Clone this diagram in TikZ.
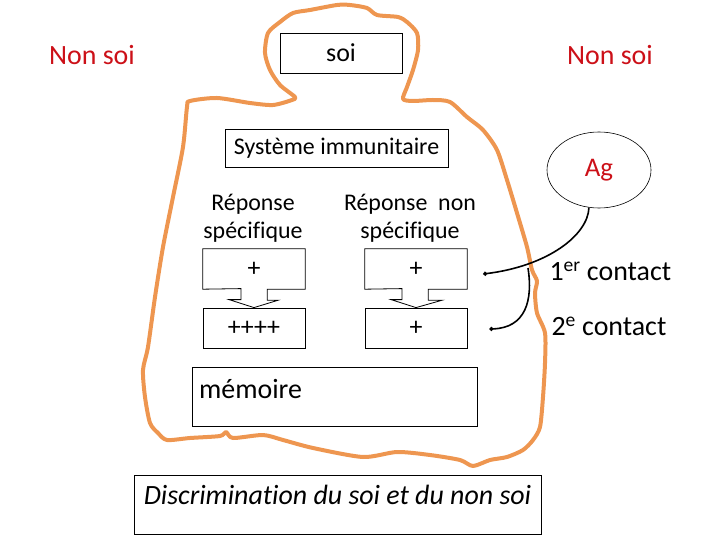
\documentclass[tikz,border=0pt]{standalone}
\usepackage{fontspec}
\setmainfont{Carlito}[Ligatures=NoCommon]
\usetikzlibrary{arrows.meta,shapes.geometric,calc}
\definecolor{bodyline}{RGB}{238,150,80}
\definecolor{nonsoired}{RGB}{204,16,24}
\tikzset{
  box/.style={draw, line width=0.8bp, inner sep=0pt},
  callout/.style={draw, line width=0.8bp, line join=miter},
  redtext/.style={text=nonsoired, font=\fontsize{28}{32}\selectfont},
  bigtext/.style={font=\fontsize{28}{32}\selectfont},
  plustext/.style={font=\fontsize{26}{30}\selectfont},
  midtext/.style={font=\fontsize{24}{28}\selectfont},
  agline/.style={line width=1.6bp, -{Circle[length=4pt]}}
}
\begin{document}
\begin{tikzpicture}[x=1bp,y=-1bp]
      \useasboundingbox (0,0) rectangle (720,540);
      \draw[bodyline, line width=4bp, line join=round] plot[smooth cycle, tension=0.45] coordinates {
        (295,97) (280,85) (270,70) (265,53) (268,33) (280,22) (293,13) (310,10)
        (337,5) (350,5) (367,8) (377,15) (398,17) (407,22) (417,33) (418,50)
        (413,70) (407,87) (403,99) (413,101) (433,100) (450,102) (467,117)
        (483,130) (497,150) (507,180) (517,213) (527,247) (532,270) (537,281)
        (535,293) (537,313) (545,333) (545,363) (543,397) (540,427) (533,440)
        (523,450) (507,457) (490,460) (473,466) (460,460) (430,455) (397,452)
        (363,457) (313,448) (283,440) (263,435) (233,438) (226,432) (220,436)
        (190,438) (167,440) (158,433) (150,423) (145,397) (143,370) (148,347)
        (155,297) (163,247) (173,197) (183,147) (187,107) (190,101) (217,98)
        (250,103) (273,105) (292,100)};
      \node[redtext] (nonsoiL) at (92,55) {Non soi};
      \node[redtext] (nonsoiR) at (610,55) {Non soi};
      \node[box, plustext, minimum width=122bp, minimum height=40bp] (soi) at (341,53) {soi};
      \node[box, midtext, minimum width=223bp, minimum height=38bp] (sysimm) at (336.5,148) {Système immunitaire};
      \node[midtext, align=center] (repspec) at (253,218) {Réponse\\spécifique};
      \node[midtext, align=center] (repnon) at (410,218) {Réponse~~non\\spécifique};
      \node[plustext, minimum width=102bp, minimum height=40bp] (plusA) at (254,269) {+};
      \node[plustext, minimum width=102bp, minimum height=40bp] (plusB) at (416,269) {+};
      \node[box, plustext, minimum width=102bp, minimum height=40bp] (quadA) at (254,328) {++++};
      \node[box, plustext, minimum width=102bp, minimum height=40bp] (plusC) at (416,328) {+};
      \draw[callout] (plusA.south west) -- (plusA.north west) -- (plusA.north east) -- (plusA.south east)
        -- ++(-38,0) -- ++(0,11) -- ++(11,0) -- (quadA.north) -- ++(-25,-8) -- ++(12,0) -- ++(0,-11) -- cycle;
      \draw[callout] (plusB.south west) -- (plusB.north west) -- (plusB.north east) -- (plusB.south east)
        -- ++(-39,0) -- ++(0,11) -- ++(14,0) -- (plusC.north) -- ++(-25,-8) -- ++(11,0) -- ++(0,-11) -- cycle;
      \node[box, minimum width=285bp, minimum height=59bp] (memoire) at (334.5,396.5) {};
      \node[bigtext, anchor=west] (memlabel) at ($(memoire.north west)+(4,22)$) {mémoire};
      \node[box, minimum width=407bp, minimum height=59bp] (discr) at (337.5,504.5) {};
      \node[font=\fontsize{28}{32}\selectfont\itshape] (discrlabel) at ($(discr.north)+(0,20)$) {Discrimination du soi et du non soi};
      \node[draw, ellipse, line width=0.6bp, minimum width=104bp, minimum height=76bp,
        text=nonsoired, font=\fontsize{27}{30}\selectfont] (ag) at (599,170) {Ag};
      \node[bigtext, anchor=west] (contact1) at (546,271) {1\textsuperscript{er} contact};
      \node[bigtext, anchor=west] (contact2) at (548,326) {2\textsuperscript{e} contact};
      \coordinate (split) at (528,268);
      \coordinate (tipA) at ($(plusB.east)+(16,5)$);
      \coordinate (tipB) at ($(plusC.east)+(22,1)$);
      \draw[agline] (ag.255) .. controls (588,235) and (548,266) .. (tipA);
      \draw[agline] (split) .. controls (533,300) and (526,328) .. (tipB);
    \end{tikzpicture}
\end{document}
